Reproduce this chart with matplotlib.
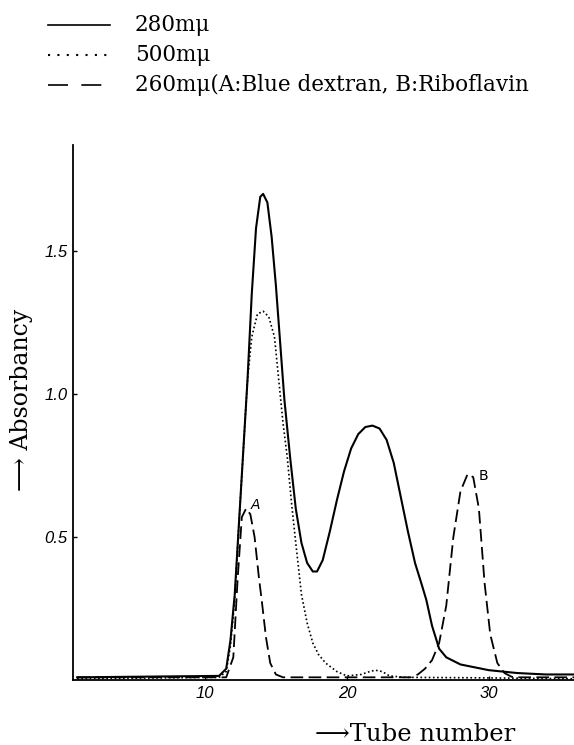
import matplotlib.pyplot as plt
from matplotlib.lines import Line2D

# tube number vs absorbancy
tube_280 = [1, 11, 11.5, 11.8, 12.1, 12.4, 12.7, 13.0, 13.3, 13.6, 13.9, 14.1, 14.4, 14.7,
            15.0, 15.3, 15.6, 16.0, 16.4, 16.8, 17.2, 17.6, 17.9, 18.3, 18.8, 19.3, 19.8,
            20.3, 20.8, 21.3, 21.8, 22.3, 22.8, 23.3, 23.8, 24.3, 24.8, 25.3, 25.6, 26.0,
            26.5, 27, 28, 29, 30, 31, 32, 34, 36]
abs_280 = [0.01, 0.015, 0.04, 0.14, 0.30, 0.55, 0.80, 1.05, 1.35, 1.58, 1.69, 1.70, 1.67, 1.55,
           1.38, 1.18, 0.98, 0.78, 0.60, 0.48, 0.41, 0.38, 0.38, 0.42, 0.52, 0.63, 0.73,
           0.81, 0.86, 0.885, 0.89, 0.88, 0.84, 0.76, 0.64, 0.52, 0.41, 0.33, 0.28, 0.19,
           0.11, 0.08, 0.055, 0.045, 0.035, 0.03, 0.025, 0.02, 0.02]

tube_500 = [1, 11, 11.5, 11.8, 12.1, 12.4, 12.7, 13.0, 13.3, 13.7, 14.1, 14.5, 14.9, 15.2,
            15.5, 15.8, 16.1, 16.4, 16.8, 17.2, 17.6, 18.0, 18.5, 19.3, 20, 21, 21.6, 22,
            22.5, 23, 24, 30, 36]
abs_500 = [0.005, 0.01, 0.03, 0.12, 0.28, 0.55, 0.80, 1.05, 1.20, 1.28, 1.29, 1.27, 1.20, 1.05,
           0.90, 0.78, 0.62, 0.48, 0.30, 0.20, 0.13, 0.09, 0.06, 0.03, 0.015, 0.02, 0.03, 0.035,
           0.03, 0.015, 0.01, 0.008, 0.005]

tube_260 = [1, 11.5, 12, 12.3, 12.6, 12.9, 13.2, 13.5, 13.8, 14.0, 14.3, 14.6, 15.0, 15.5,
            24.5, 25, 25.5, 26, 26.5, 27, 27.5, 28, 28.5, 28.9, 29.3, 29.7, 30.1, 30.6, 31.1,
            31.6, 32, 36]
abs_260 = [0.01, 0.01, 0.08, 0.35, 0.57, 0.60, 0.58, 0.50, 0.36, 0.28, 0.15, 0.06, 0.02, 0.01,
           0.01, 0.02, 0.04, 0.07, 0.13, 0.26, 0.50, 0.66, 0.72, 0.71, 0.60, 0.34, 0.16, 0.06,
           0.025, 0.012, 0.01, 0.01]

xticks = [10, 20, 30]
yticks = [0.5, 1.0, 1.5]
legend_labels = ['280m\u03bc', '500m\u03bc', '260m\u03bc(A:Blue dextran, B:Riboflavin']

serif = ['DejaVu Serif', 'DejaVu Sans']
dots = (0, (1, 1.5))
dashes = (0, (7, 3))

fig = plt.figure(figsize=(5.74, 7.45), dpi=100)
ax = fig.add_axes([0.127, 0.087, 0.873, 0.718])

ax.plot(tube_280, abs_280, color='black', lw=1.5)
ax.plot(tube_500, abs_500, color='black', lw=1.2, linestyle=dots)
ax.plot(tube_260, abs_260, color='black', lw=1.3, linestyle=dashes)

ax.text(13.25, 0.60, 'A', fontsize=10, fontstyle='italic')
ax.text(29.3, 0.70, 'B', fontsize=10)

ax.set_xlim(0.7, 36.0)
ax.set_ylim(0, 1.87)
ax.spines['top'].set_visible(False)
ax.spines['right'].set_visible(False)
for s in ['left', 'bottom']:
    ax.spines[s].set_linewidth(1.3)
ax.set_xticks(xticks)
ax.set_yticks(yticks)
ax.set_xticklabels([str(t) for t in xticks], fontstyle='italic', fontsize=12,
                   family='Liberation Sans')
ax.set_yticklabels([str(t) for t in yticks], fontstyle='italic', fontsize=12,
                   family='Liberation Sans')
ax.tick_params(direction='in', length=3, width=1, pad=4)

# legend drawn by hand at the top
legend_styles = [('-', 1.2), ((0, (1, 3.5)), 1.5), ((0, (12, 8)), 1.2)]
for i, (lab, (ls, lw)) in enumerate(zip(legend_labels, legend_styles)):
    y = 1 - (25 + 30 * i) / 745
    fig.add_artist(Line2D([48 / 574, 110 / 574], [y, y], color='black', lw=lw,
                          linestyle=ls, dash_capstyle='butt', transform=fig.transFigure))
    fig.text(135 / 574, y, lab, fontsize=15.5, family=serif, va='center')

fig.text(0.038, 0.463, '\u27f6 Absorbancy', rotation=90, fontsize=17, family=serif,
         ha='center', va='center')
fig.text(0.723, 0.014, '\u27f6Tube number', fontsize=17.5, family=serif,
         ha='center', va='center')

fig.savefig('out.png')
